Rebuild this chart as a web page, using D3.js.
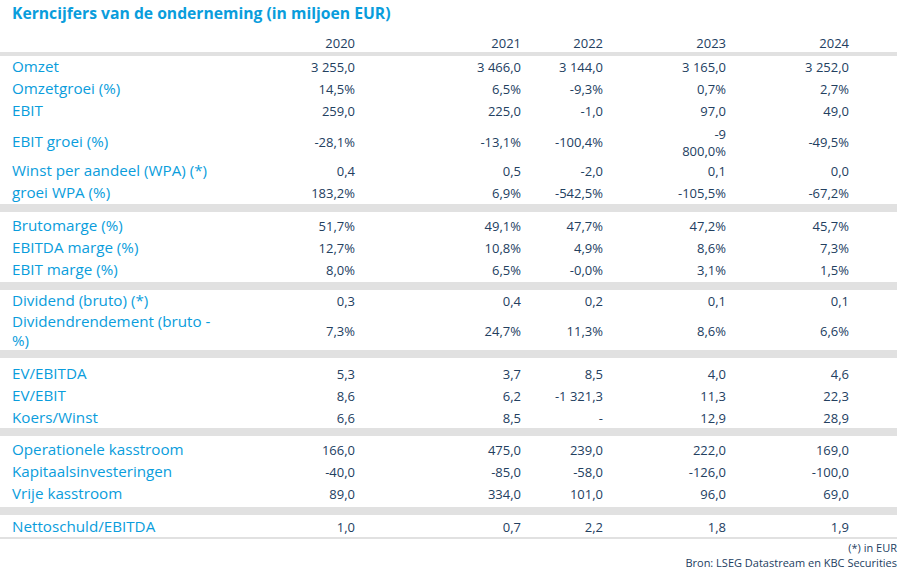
<!DOCTYPE html>
<html><head><meta charset="utf-8">
<script src="https://cdn.jsdelivr.net/npm/d3@7"></script>
<style>body{margin:0;background:#fff}</style>
</head><body><svg id="c" width="917" height="582"></svg>
<script>
var years = ["2020", "2021", "2022", "2023", "2024"];
var labels = ["Omzet", "Omzetgroei (%)", "EBIT", "EBIT groei (%)", "Winst per aandeel (WPA) (*)", "groei WPA (%)",
  "Brutomarge (%)", "EBITDA marge (%)", "EBIT marge (%)",
  "Dividend (bruto) (*)", "Dividendrendement (bruto -\n%)",
  "EV/EBITDA", "EV/EBIT", "Koers/Winst",
  "Operationele kasstroom", "Kapitaalsinvesteringen", "Vrije kasstroom",
  "Nettoschuld/EBITDA"];
var values = [
  ["3 255,0", "3 466,0", "3 144,0", "3 165,0", "3 252,0"],
  ["14,5%", "6,5%", "-9,3%", "0,7%", "2,7%"],
  ["259,0", "225,0", "-1,0", "97,0", "49,0"],
  ["-28,1%", "-13,1%", "-100,4%", "-9\n800,0%", "-49,5%"],
  ["0,4", "0,5", "-2,0", "0,1", "0,0"],
  ["183,2%", "6,9%", "-542,5%", "-105,5%", "-67,2%"],
  ["51,7%", "49,1%", "47,7%", "47,2%", "45,7%"],
  ["12,7%", "10,8%", "4,9%", "8,6%", "7,3%"],
  ["8,0%", "6,5%", "-0,0%", "3,1%", "1,5%"],
  ["0,3", "0,4", "0,2", "0,1", "0,1"],
  ["7,3%", "24,7%", "11,3%", "8,6%", "6,6%"],
  ["5,3", "3,7", "8,5", "4,0", "4,6"],
  ["8,6", "6,2", "-1 321,3", "11,3", "22,3"],
  ["6,6", "8,5", "-", "12,9", "28,9"],
  ["166,0", "475,0", "239,0", "222,0", "169,0"],
  ["-40,0", "-85,0", "-58,0", "-126,0", "-100,0"],
  ["89,0", "334,0", "101,0", "96,0", "69,0"],
  ["1,0", "0,7", "2,2", "1,8", "1,9"]
];
var rowY = [67, 89, 111, 142, 171, 193, 226, 248, 270, 301, 331, 374, 396, 418, 450, 472, 494, 527];
var bands = [208, 286, 354, 432, 511];
var notes = ["(*) in EUR", "Bron: LSEG Datastream en KBC Securities"];

var svg = d3.select("#c");
var font = "'Open Sans', 'DejaVu Sans', sans-serif";
var blue = "#0a9ddc", navy = "#23405f", grey = "#e1e1e1";

// column right edges (the reference table has uneven columns)
var colX = d3.scaleOrdinal().domain(years).range([355, 521, 603, 726, 849]);

svg.append("text").attr("x", 12).attr("y", 19).text("Kerncijfers van de onderneming (in miljoen EUR)")
  .attr("font-family", font).attr("font-size", 15.7).attr("font-weight", 700).attr("fill", blue);

svg.selectAll("text.yr").data(years).join("text").attr("class", "yr")
  .attr("x", d => colX(d)).attr("y", 48).attr("text-anchor", "end")
  .attr("font-family", font).attr("font-size", 13).attr("fill", navy).text(d => d);

svg.append("rect").attr("x", 0).attr("y", 52).attr("width", 897).attr("height", 4).attr("fill", grey);
svg.selectAll("rect.band").data(bands).join("rect").attr("class", "band")
  .attr("x", 0).attr("y", d => d - 4).attr("width", 897).attr("height", 8).attr("fill", grey);
svg.append("rect").attr("x", 0).attr("y", 537).attr("width", 897).attr("height", 2).attr("fill", grey);

function multi(sel, str, y, lh) {
  var parts = str.split("\n");
  var y0 = y - (parts.length - 1) * lh / 2;
  parts.forEach(function (p, i) {
    sel.append("tspan").attr("x", sel.attr("x")).attr("y", y0 + i * lh + 5).text(p);
  });
}

labels.forEach(function (lab, i) {
  var t = svg.append("text").attr("x", 12).attr("font-family", font).attr("font-size", 15.2).attr("fill", blue);
  multi(t, lab, rowY[i], 19);
  values[i].forEach(function (v, j) {
    var tv = svg.append("text").attr("x", colX(years[j])).attr("text-anchor", "end")
      .attr("font-family", font).attr("font-size", 13).attr("fill", navy);
    multi(tv, v, rowY[i], 17);
  });
});

svg.selectAll("text.note").data(notes).join("text").attr("class", "note")
  .attr("x", 897).attr("y", (d, i) => 552 + i * 15).attr("text-anchor", "end")
  .attr("font-family", font).attr("font-size", 11).attr("fill", navy).text(d => d);
</script></body></html>
